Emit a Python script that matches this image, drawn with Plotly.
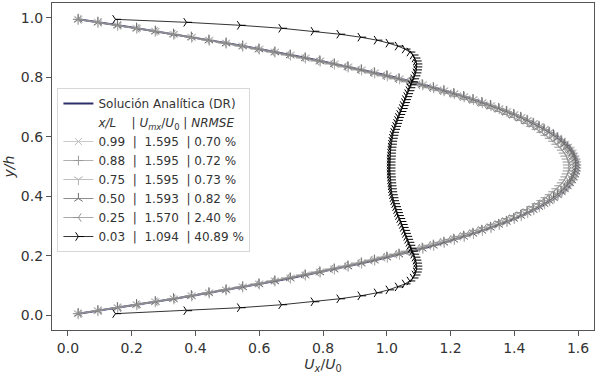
import plotly.graph_objects as go

# y/h positions (cell centres)
y_pos = [0.005, 0.015, 0.025, 0.035, 0.045, 0.055, 0.065, 0.075, 0.085, 0.095,
         0.105, 0.115, 0.125, 0.135, 0.145, 0.155, 0.165, 0.175, 0.185, 0.195,
         0.205, 0.215, 0.225, 0.235, 0.245, 0.255, 0.265, 0.275, 0.285, 0.295,
         0.305, 0.315, 0.325, 0.335, 0.345, 0.355, 0.365, 0.375, 0.385, 0.395,
         0.405, 0.415, 0.425, 0.435, 0.445, 0.455, 0.465, 0.475, 0.485, 0.495,
         0.505, 0.515, 0.525, 0.535, 0.545, 0.555, 0.565, 0.575, 0.585, 0.595,
         0.605, 0.615, 0.625, 0.635, 0.645, 0.655, 0.665, 0.675, 0.685, 0.695,
         0.705, 0.715, 0.725, 0.735, 0.745, 0.755, 0.765, 0.775, 0.785, 0.795,
         0.805, 0.815, 0.825, 0.835, 0.845, 0.855, 0.865, 0.875, 0.885, 0.895,
         0.905, 0.915, 0.925, 0.935, 0.945, 0.955, 0.965, 0.975, 0.985, 0.995]

ux_analitica = [0.032, 0.095, 0.156, 0.216, 0.275, 0.333, 0.389, 0.444, 0.498, 0.550,
                0.601, 0.651, 0.700, 0.747, 0.793, 0.838, 0.882, 0.924, 0.965, 1.005,
                1.043, 1.080, 1.116, 1.151, 1.184, 1.216, 1.247, 1.276, 1.304, 1.331,
                1.357, 1.381, 1.404, 1.426, 1.446, 1.465, 1.483, 1.500, 1.515, 1.529,
                1.542, 1.554, 1.564, 1.573, 1.581, 1.587, 1.592, 1.596, 1.599, 1.600,
                1.600, 1.599, 1.596, 1.592, 1.587, 1.581, 1.573, 1.564, 1.554, 1.542,
                1.529, 1.515, 1.500, 1.483, 1.465, 1.446, 1.426, 1.404, 1.381, 1.357,
                1.331, 1.304, 1.276, 1.247, 1.216, 1.184, 1.151, 1.116, 1.080, 1.043,
                1.005, 0.965, 0.924, 0.882, 0.838, 0.793, 0.747, 0.700, 0.651, 0.601,
                0.550, 0.498, 0.444, 0.389, 0.333, 0.275, 0.216, 0.156, 0.095, 0.032]

ux_099 = [0.032, 0.094, 0.156, 0.216, 0.274, 0.332, 0.388, 0.443, 0.496, 0.548,
          0.600, 0.649, 0.698, 0.745, 0.791, 0.836, 0.879, 0.921, 0.962, 1.002,
          1.040, 1.077, 1.113, 1.147, 1.180, 1.212, 1.243, 1.272, 1.300, 1.327,
          1.353, 1.377, 1.400, 1.422, 1.442, 1.461, 1.479, 1.495, 1.511, 1.525,
          1.537, 1.549, 1.559, 1.568, 1.576, 1.582, 1.587, 1.591, 1.594, 1.595,
          1.595, 1.594, 1.591, 1.587, 1.582, 1.576, 1.568, 1.559, 1.549, 1.537,
          1.525, 1.511, 1.495, 1.479, 1.461, 1.442, 1.422, 1.400, 1.377, 1.353,
          1.327, 1.300, 1.272, 1.243, 1.212, 1.180, 1.147, 1.113, 1.077, 1.040,
          1.002, 0.962, 0.921, 0.879, 0.836, 0.791, 0.745, 0.698, 0.649, 0.600,
          0.548, 0.496, 0.443, 0.388, 0.332, 0.274, 0.216, 0.156, 0.094, 0.032]

ux_088 = [0.032, 0.094, 0.156, 0.216, 0.274, 0.332, 0.388, 0.443, 0.496, 0.548,
          0.600, 0.649, 0.698, 0.745, 0.791, 0.836, 0.879, 0.921, 0.962, 1.002,
          1.040, 1.077, 1.113, 1.147, 1.180, 1.212, 1.243, 1.272, 1.300, 1.327,
          1.353, 1.377, 1.400, 1.422, 1.442, 1.461, 1.479, 1.495, 1.511, 1.525,
          1.537, 1.549, 1.559, 1.568, 1.576, 1.582, 1.587, 1.591, 1.594, 1.595,
          1.595, 1.594, 1.591, 1.587, 1.582, 1.576, 1.568, 1.559, 1.549, 1.537,
          1.525, 1.511, 1.495, 1.479, 1.461, 1.442, 1.422, 1.400, 1.377, 1.353,
          1.327, 1.300, 1.272, 1.243, 1.212, 1.180, 1.147, 1.113, 1.077, 1.040,
          1.002, 0.962, 0.921, 0.879, 0.836, 0.791, 0.745, 0.698, 0.649, 0.600,
          0.548, 0.496, 0.443, 0.388, 0.332, 0.274, 0.216, 0.156, 0.094, 0.032]

ux_075 = [0.032, 0.094, 0.156, 0.216, 0.274, 0.332, 0.388, 0.443, 0.496, 0.548,
          0.600, 0.649, 0.698, 0.745, 0.791, 0.836, 0.879, 0.921, 0.962, 1.002,
          1.040, 1.077, 1.113, 1.147, 1.180, 1.212, 1.243, 1.272, 1.300, 1.327,
          1.353, 1.377, 1.400, 1.422, 1.442, 1.461, 1.479, 1.495, 1.511, 1.525,
          1.537, 1.549, 1.559, 1.568, 1.576, 1.582, 1.587, 1.591, 1.594, 1.595,
          1.595, 1.594, 1.591, 1.587, 1.582, 1.576, 1.568, 1.559, 1.549, 1.537,
          1.525, 1.511, 1.495, 1.479, 1.461, 1.442, 1.422, 1.400, 1.377, 1.353,
          1.327, 1.300, 1.272, 1.243, 1.212, 1.180, 1.147, 1.113, 1.077, 1.040,
          1.002, 0.962, 0.921, 0.879, 0.836, 0.791, 0.745, 0.698, 0.649, 0.600,
          0.548, 0.496, 0.443, 0.388, 0.332, 0.274, 0.216, 0.156, 0.094, 0.032]

ux_050 = [0.032, 0.094, 0.155, 0.215, 0.274, 0.331, 0.387, 0.442, 0.496, 0.548,
          0.599, 0.649, 0.697, 0.744, 0.790, 0.835, 0.878, 0.920, 0.961, 1.000,
          1.038, 1.075, 1.111, 1.146, 1.179, 1.210, 1.241, 1.270, 1.298, 1.325,
          1.351, 1.375, 1.398, 1.420, 1.440, 1.459, 1.477, 1.493, 1.509, 1.523,
          1.535, 1.547, 1.557, 1.566, 1.574, 1.580, 1.585, 1.589, 1.592, 1.593,
          1.593, 1.592, 1.589, 1.585, 1.580, 1.574, 1.566, 1.557, 1.547, 1.535,
          1.523, 1.509, 1.493, 1.477, 1.459, 1.440, 1.420, 1.398, 1.375, 1.351,
          1.325, 1.298, 1.270, 1.241, 1.210, 1.179, 1.146, 1.111, 1.075, 1.038,
          1.000, 0.961, 0.920, 0.878, 0.835, 0.790, 0.744, 0.697, 0.649, 0.599,
          0.548, 0.496, 0.442, 0.387, 0.331, 0.274, 0.215, 0.155, 0.094, 0.032]

ux_025 = [0.033, 0.096, 0.157, 0.215, 0.272, 0.328, 0.383, 0.436, 0.489, 0.540,
          0.590, 0.639, 0.686, 0.733, 0.778, 0.822, 0.865, 0.906, 0.946, 0.985,
          1.023, 1.060, 1.095, 1.129, 1.161, 1.193, 1.223, 1.252, 1.279, 1.306,
          1.331, 1.355, 1.377, 1.399, 1.419, 1.438, 1.455, 1.472, 1.487, 1.500,
          1.513, 1.524, 1.534, 1.543, 1.551, 1.557, 1.562, 1.566, 1.569, 1.570,
          1.570, 1.569, 1.566, 1.562, 1.557, 1.551, 1.543, 1.534, 1.524, 1.513,
          1.500, 1.487, 1.472, 1.455, 1.438, 1.419, 1.399, 1.377, 1.355, 1.331,
          1.306, 1.279, 1.252, 1.223, 1.193, 1.161, 1.129, 1.095, 1.060, 1.023,
          0.985, 0.946, 0.906, 0.865, 0.822, 0.778, 0.733, 0.686, 0.639, 0.590,
          0.540, 0.489, 0.436, 0.383, 0.328, 0.272, 0.215, 0.157, 0.096, 0.033]

ux_003 = [0.149, 0.372, 0.540, 0.670, 0.771, 0.852, 0.918, 0.969, 1.006, 1.035,
          1.057, 1.072, 1.082, 1.088, 1.092, 1.094, 1.094, 1.093, 1.091, 1.088,
          1.084, 1.080, 1.076, 1.072, 1.069, 1.065, 1.062, 1.058, 1.055, 1.051,
          1.048, 1.044, 1.040, 1.036, 1.033, 1.030, 1.027, 1.024, 1.021, 1.019,
          1.017, 1.015, 1.014, 1.013, 1.012, 1.011, 1.011, 1.010, 1.010, 1.010,
          1.010, 1.010, 1.010, 1.011, 1.011, 1.012, 1.013, 1.014, 1.015, 1.017,
          1.019, 1.021, 1.024, 1.027, 1.030, 1.033, 1.036, 1.040, 1.044, 1.048,
          1.051, 1.055, 1.058, 1.062, 1.065, 1.069, 1.072, 1.076, 1.080, 1.084,
          1.088, 1.091, 1.093, 1.094, 1.094, 1.092, 1.088, 1.082, 1.072, 1.057,
          1.035, 1.006, 0.969, 0.918, 0.852, 0.771, 0.670, 0.540, 0.372, 0.149]

x_L = ["0.99", "0.88", "0.75", "0.50", "0.25", "0.03"]
umax = ["1.595", "1.595", "1.595", "1.593", "1.570", "1.094"]
nrmse = ["0.70 %", "0.72 %", "0.73 %", "0.82 %", "2.40 %", "40.89 %"]
series = [ux_099, ux_088, ux_075, ux_050, ux_025, ux_003]
symbols = ["x-thin-open", "cross-thin-open", "y-down-open", "y-up-open", "y-left-open", "y-right-open"]
colors = ["#bdbdbd", "#9a9a9a", "#b0b0b0", "#6e6e6e", "#939393", "#000000"]

FONT = "DejaVu Sans"
NB = "\u00a0"

fig = go.Figure()

fig.add_trace(go.Scatter(
    x=ux_analitica, y=y_pos, mode="lines",
    line=dict(color="#2e2e6c", width=2),
    name="Solución Analítica (DR)"))

fig.add_trace(go.Scatter(
    x=[None], y=[None], mode="lines",
    line=dict(color="rgba(0,0,0,0)", width=0),
    name="<i>x/L</i>" + NB * 4 + "| <i>U</i><sub><i>mx</i></sub>/<i>U</i><sub>0</sub> | <i>NRMSE</i>"))

for i in range(len(series)):
    fig.add_trace(go.Scatter(
        x=series[i], y=y_pos, mode="lines+markers",
        line=dict(color=colors[i], width=0.8),
        marker=dict(symbol=symbols[i], size=7, color=colors[i],
                    line=dict(color=colors[i], width=1)),
        name=x_L[i] + NB + " | " + NB + umax[i] + NB + " | " + nrmse[i]))

axis_common = dict(
    showgrid=False, zeroline=False,
    showline=True, linecolor="#555555", linewidth=1.2, mirror=True,
    ticks="outside", ticklen=5, tickwidth=1.2, tickcolor="#555555",
    tickfont=dict(family=FONT, size=14, color="#333333"),
)

fig.update_xaxes(range=[-0.05, 1.65], tickmode="array",
                 tickvals=[0.0, 0.2, 0.4, 0.6, 0.8, 1.0, 1.2, 1.4, 1.6],
                 tickformat=".1f",
                 title=dict(text="<i>U</i><sub><i>x</i></sub>/<i>U</i><sub>0</sub>",
                            font=dict(family=FONT, size=14, color="#333333"), standoff=3),
                 automargin=False,
                 **axis_common)
fig.update_yaxes(range=[-0.05, 1.05], tickmode="array",
                 tickvals=[0.0, 0.2, 0.4, 0.6, 0.8, 1.0],
                 tickformat=".1f",
                 title=dict(text="<i>y/h</i>",
                            font=dict(family=FONT, size=14, color="#333333"), standoff=2),
                 automargin=False,
                 **axis_common)

fig.update_layout(
    width=598, height=374,
    margin=dict(l=52, r=4, t=3, b=44),
    plot_bgcolor="white", paper_bgcolor="white",
    font=dict(family=FONT, size=12, color="#333333"),
    legend=dict(x=0.01, y=0.74, xanchor="left", yanchor="top",
                bgcolor="rgba(255,255,255,0.85)", bordercolor="#d8d8d8", borderwidth=1,
                font=dict(family=FONT, size=12, color="#333333"),
                itemwidth=30, tracegroupgap=0),
    showlegend=True,
)

fig.write_html("out.html", config={"displayModeBar": False},
               post_script="document.body.style.margin='0px';document.body.style.overflow='hidden';")
